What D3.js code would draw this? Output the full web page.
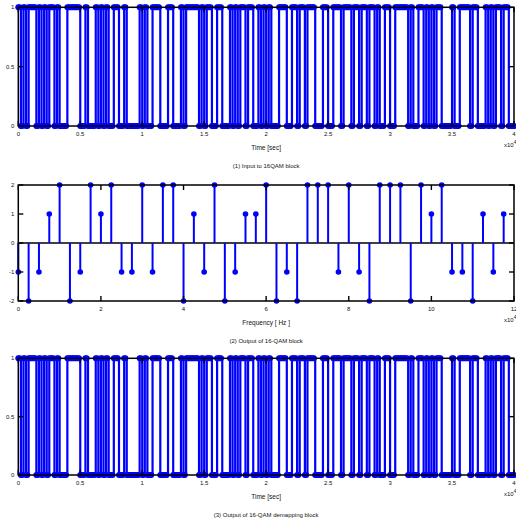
<!DOCTYPE html>
<html>
<head>
<meta charset="utf-8">
<script src="https://cdn.jsdelivr.net/npm/d3@7"></script>
<style>
body { margin: 0; background: #fff; }
text { font-family: "Liberation Sans", Arial, sans-serif; fill: #111; }
</style>
</head>
<body>
<svg id="chart"></svg>
<script>
var inputBits = [
    1,0,1,0,1,1,1,0,1,0,1,0,1,1,0,1,
    0,0,0,1,1,1,1,1,0,0,1,0,0,0,1,0,
    1,0,1,0,0,1,1,0,0,1,0,0,0,0,0,1,
    0,1,0,0,1,1,1,0,0,0,1,1,0,0,0,1,
    0,1,1,1,1,1,0,1,0,1,1,0,0,1,1,0,
    0,0,1,0,1,0,1,1,0,1,1,0,0,1,0,1,
    0,1,0,0,0,1,1,1,0,0,1,1,0,1,1,0,
    1,1,1,0,0,0,1,1,0,0,1,1,1,0,1,1,
    1,0,1,1,0,1,1,0,1,1,0,1,0,0,1,1,
    0,0,1,1,1,1,1,0,1,0,0,1,1,0,1,0,
    1,0,1,1,0,0,0,0,1,0,0,1,1,1,1,0,
    1,1,0,0,0,1,0,1,0,1,1,0,1,1,0,0
];

// bit stream after the demapper (panel 3, same as the input)
var demappedBits = [
    1,0,1,0,1,1,1,0,1,0,1,0,1,1,0,1,
    0,0,0,1,1,1,1,1,0,0,1,0,0,0,1,0,
    1,0,1,0,0,1,1,0,0,1,0,0,0,0,0,1,
    0,1,0,0,1,1,1,0,0,0,1,1,0,0,0,1,
    0,1,1,1,1,1,0,1,0,1,1,0,0,1,1,0,
    0,0,1,0,1,0,1,1,0,1,1,0,0,1,0,1,
    0,1,0,0,0,1,1,1,0,0,1,1,0,1,1,0,
    1,1,1,0,0,0,1,1,0,0,1,1,1,0,1,1,
    1,0,1,1,0,1,1,0,1,1,0,1,0,0,1,1,
    0,0,1,1,1,1,1,0,1,0,0,1,1,0,1,0,
    1,0,1,1,0,0,0,0,1,0,0,1,1,1,1,0,
    1,1,0,0,0,1,0,1,0,1,1,0,1,1,0,0
];

// 16-QAM symbol amplitudes (panel 2 stems)
var symbolValues = [
    -1,-2,-1,1,2,-2,-1,2,1,2,-1,-1,2,-1,2,2,-2,1,-1,2,-2,-1,1,1,
    2,-2,-1,-2,2,2,2,-1,2,-1,-2,2,2,2,-2,2,1,2,-1,-1,-2,1,-1,1
];
var symbolStep = 0.25;   // x10^4 between stems

var timeTicks = [0, 0.5, 1, 1.5, 2, 2.5, 3, 3.5, 4];
var bitTicks = [0, 0.5, 1];
var freqTicks = [0, 2, 4, 6, 8, 10, 12];
var ampTicks = [-2, -1, 0, 1, 2];

var W = 516, H = 519;
var left = 18.3, right = 514;
var blue = "#0000ff";

var svg = d3.select("#chart")
    .attr("width", W)
    .attr("height", H);

svg.append("rect")
    .attr("width", W)
    .attr("height", H)
    .attr("fill", "#fff");

var x = d3.scaleLinear().domain([0, 4]).range([left, right]);
var xf = d3.scaleLinear().domain([0, 12]).range([left, right]);

// frame + inside ticks + labels, matlab style
function drawAxes(g, xs, ys, xt, yt, top, bottom, xlabel, caption) {
    var tl = 5;
    g.append("rect")
        .attr("x", left).attr("y", top)
        .attr("width", right - left).attr("height", bottom - top)
        .attr("fill", "none").attr("stroke", "#000").attr("stroke-width", 1.5);

    xt.forEach(function (t) {
        var px = xs(t);
        g.append("line").attr("x1", px).attr("x2", px).attr("y1", bottom).attr("y2", bottom - tl)
            .attr("stroke", "#000").attr("stroke-width", 1.4);
        g.append("line").attr("x1", px).attr("x2", px).attr("y1", top).attr("y2", top + tl)
            .attr("stroke", "#000").attr("stroke-width", 1.4);
        g.append("text")
            .attr("x", px).attr("y", bottom + 10)
            .attr("text-anchor", "middle")
            .style("font-size", "6px")
            .text(t);
    });

    yt.forEach(function (t) {
        var py = ys(t);
        g.append("line").attr("x1", left).attr("x2", left + tl).attr("y1", py).attr("y2", py)
            .attr("stroke", "#000").attr("stroke-width", 1.4);
        g.append("line").attr("x1", right).attr("x2", right - tl).attr("y1", py).attr("y2", py)
            .attr("stroke", "#000").attr("stroke-width", 1.4);
        g.append("text")
            .attr("x", left - 4).attr("y", py + 2)
            .attr("text-anchor", "end")
            .style("font-size", "6px")
            .text(t);
    });

    // x10^4 multiplier
    var m = g.append("text")
        .attr("x", right - 10).attr("y", bottom + 21)
        .style("font-size", "6px");
    m.append("tspan").text("x10");
    m.append("tspan").attr("dy", -3).style("font-size", "5px").text("4");

    g.append("text")
        .attr("x", (left + right) / 2).attr("y", bottom + 24)
        .attr("text-anchor", "middle")
        .style("font-size", "6.5px")
        .text(xlabel);

    g.append("text")
        .attr("x", (left + right) / 2).attr("y", bottom + 42)
        .attr("text-anchor", "middle")
        .style("font-size", "6px")
        .text(caption);
}

function drawBits(bits, top, bottom, caption) {
    var y = d3.scaleLinear().domain([0, 1]).range([bottom, top]);
    var dt = 4 / bits.length;
    var g = svg.append("g");

    var pts = bits.map(function (b, k) { return [k * dt, b]; });
    pts.push([4, bits[bits.length - 1]]);

    var line = d3.line()
        .x(function (d) { return x(d[0]); })
        .y(function (d) { return y(d[1]); })
        .curve(d3.curveStepAfter);

    g.append("path")
        .attr("d", line(pts))
        .attr("fill", "none")
        .attr("stroke", blue)
        .attr("stroke-width", 2.2);

    // sample markers along the levels
    var marks = [];
    bits.forEach(function (b, k) {
        marks.push([k * dt, b]);
        marks.push([(k + 0.5) * dt, b]);
    });
    marks.push([4, bits[bits.length - 1]]);

    g.selectAll("circle")
        .data(marks)
        .enter()
        .append("circle")
        .attr("cx", function (d) { return x(d[0]); })
        .attr("cy", function (d) { return y(d[1]); })
        .attr("r", 3)
        .attr("fill", blue);

    drawAxes(g, x, y, timeTicks, bitTicks, top, bottom, "Time [sec]", caption);
}

function drawStems(vals, top, bottom, caption) {
    var y = d3.scaleLinear().domain([-2, 2]).range([bottom, top]);
    var g = svg.append("g");

    g.append("line")
        .attr("x1", left).attr("x2", right)
        .attr("y1", y(0)).attr("y2", y(0))
        .attr("stroke", "#000").attr("stroke-width", 1.5);

    g.selectAll("line.stem")
        .data(vals)
        .enter()
        .append("line")
        .attr("class", "stem")
        .attr("x1", function (d, i) { return xf(i * symbolStep); })
        .attr("x2", function (d, i) { return xf(i * symbolStep); })
        .attr("y1", y(0))
        .attr("y2", function (d) { return y(d); })
        .attr("stroke", blue)
        .attr("stroke-width", 2);

    g.selectAll("circle")
        .data(vals)
        .enter()
        .append("circle")
        .attr("cx", function (d, i) { return xf(i * symbolStep); })
        .attr("cy", function (d) { return y(d); })
        .attr("r", 2.8)
        .attr("fill", blue);

    drawAxes(g, xf, y, freqTicks, ampTicks, top, bottom, "Frequency [ Hz ]", caption);
}

drawBits(inputBits, 7.3, 126, "(1) Input to 16QAM block");
drawStems(symbolValues, 185, 301, "(2) Output of 16-QAM block");
drawBits(demappedBits, 358.3, 475, "(3) Output of 16-QAM demapping block");
</script>
</body>
</html>
